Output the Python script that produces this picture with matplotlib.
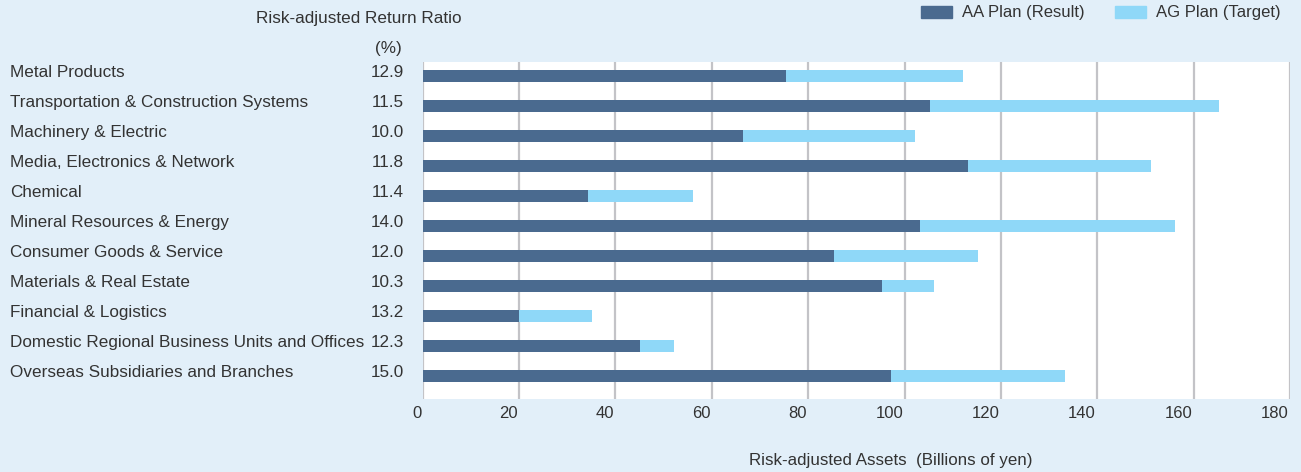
import matplotlib
matplotlib.use("Agg")
import matplotlib.pyplot as plt
import matplotlib.transforms as mtransforms
from matplotlib.patches import Patch

segments = [
    "Metal Products",
    "Transportation & Construction Systems",
    "Machinery & Electric",
    "Media, Electronics & Network",
    "Chemical",
    "Mineral Resources & Energy",
    "Consumer Goods & Service",
    "Materials & Real Estate",
    "Financial & Logistics",
    "Domestic Regional Business Units and Offices",
    "Overseas Subsidiaries and Branches",
]
return_ratio = ["12.9", "11.5", "10.0", "11.8", "11.4", "14.0", "12.0", "10.3", "13.2", "12.3", "15.0"]
aa_result = [75.3, 105.2, 66.5, 113.2, 34.3, 103.3, 85.3, 95.4, 20.0, 45.1, 97.2]
ag_target = [112.2, 165.3, 102.2, 151.2, 56.1, 156.2, 115.3, 106.2, 35.1, 52.2, 133.3]
x_ticks = [0, 20, 40, 60, 80, 100, 120, 140, 160, 180]

bg = "#e2eff9"
dark = "#4a6a8f"
light = "#8fd8f8"
grid = "#c3c3c7"
txt = "#333333"

plt.rcParams["font.family"] = ["Liberation Sans", "DejaVu Sans"]

W, H = 1301, 472
fig = plt.figure(figsize=(W / 100, H / 100), dpi=100, facecolor=bg)
ax = fig.add_axes([422.7 / W, 1 - 399 / H, (1290 - 422.7) / W, (399 - 62) / H])
ax.set_facecolor("white")

y = list(range(len(segments)))
ax.barh(y, ag_target, height=0.4, color=light, zorder=2)
ax.barh(y, aa_result, height=0.4, color=dark, zorder=3)

ax.set_xlim(0, 180)
ax.set_ylim(10.77, -0.47)
ax.set_yticks([])
for x in x_ticks:
    ax.axvline(x, color=grid, lw=1.6, zorder=1)
for s in ax.spines.values():
    s.set_visible(False)

ax.set_xticks(x_ticks)
ax.set_xticklabels([str(v) for v in x_ticks], ha="right")
ax.tick_params(axis="x", length=0, pad=5, labelsize=12, labelcolor=txt)
offset = mtransforms.ScaledTranslation(-0.015, 0, fig.dpi_scale_trans)
for lab in ax.get_xticklabels():
    lab.set_transform(lab.get_transform() + offset)

# row labels and ratios on the left, aligned with the bars
tr = mtransforms.blended_transform_factory(fig.transFigure, ax.transData)
lift = mtransforms.ScaledTranslation(0, 0.035, fig.dpi_scale_trans)
for i, (name, r) in enumerate(zip(segments, return_ratio)):
    fig.text(10 / W, i, name, transform=tr + lift, ha="left", va="center",
             fontsize=12.3, color=txt)
    fig.text(404 / W, i, r, transform=tr + lift, ha="right", va="center",
             fontsize=12.3, color=txt)

fig.text(359 / W, 1 - 18 / H, "Risk-adjusted Return Ratio", ha="center", va="center",
         fontsize=12.3, color=txt)
fig.text(388 / W, 1 - 48 / H, "(%)", ha="center", va="center", fontsize=12.3, color=txt)
fig.text(891 / W, 1 - 460 / H, "Risk-adjusted Assets  (Billions of yen)", ha="center",
         va="center", fontsize=12.2, color=txt)

handles = [Patch(color=dark, label="AA Plan (Result)"),
           Patch(color=light, label="AG Plan (Target)")]
fig.legend(handles=handles, loc="center right", bbox_to_anchor=(1296 / W, 1 - 13 / H),
           ncol=2, frameon=False, fontsize=12, handlelength=1.86, handleheight=0.72,
           handletextpad=0.6, columnspacing=1.86, labelcolor=txt)

fig.savefig("out.png", dpi=100, facecolor=bg)
